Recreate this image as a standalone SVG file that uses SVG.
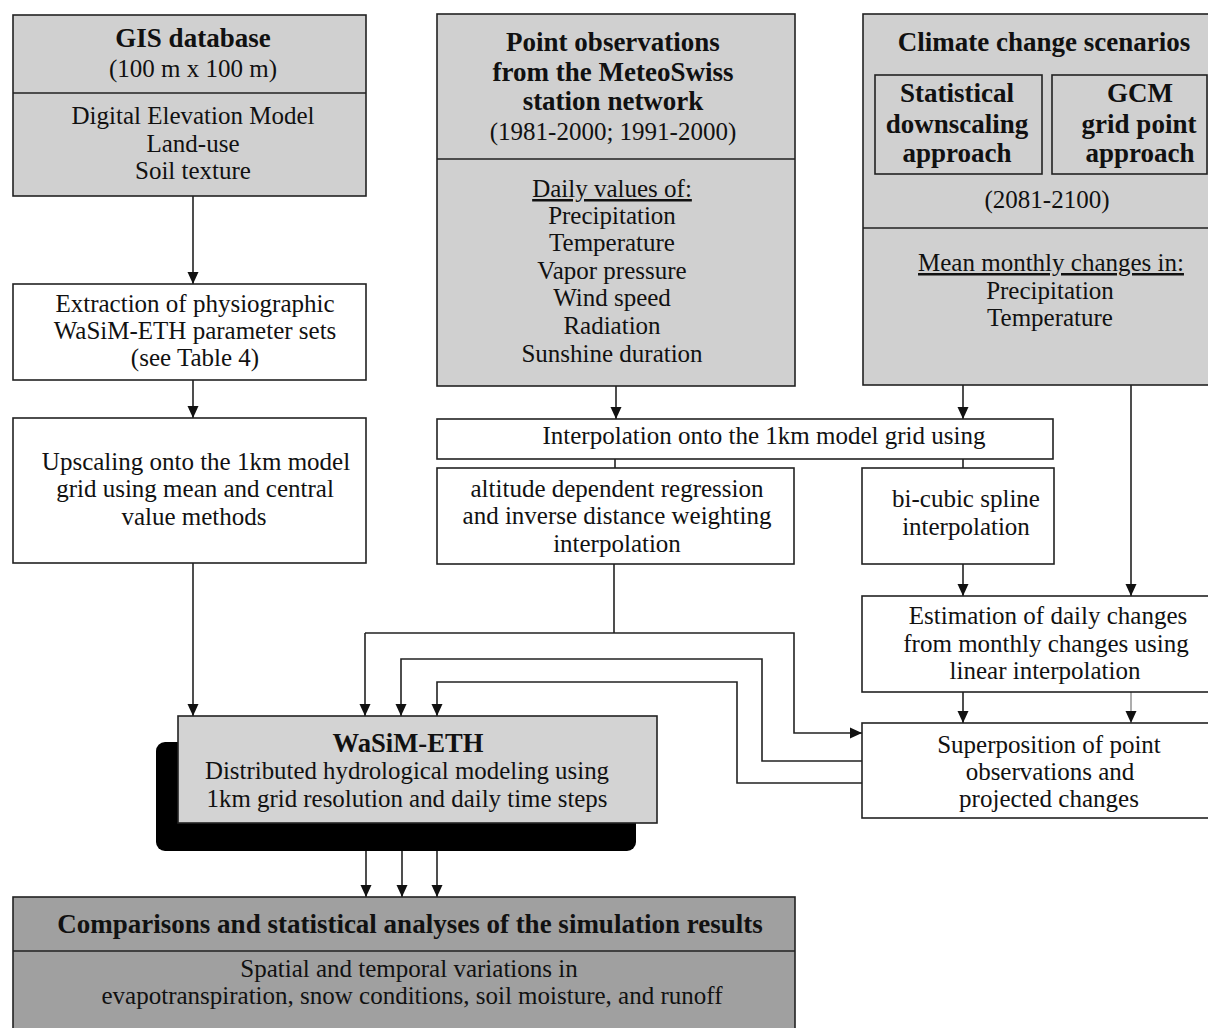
<svg xmlns="http://www.w3.org/2000/svg" width="1208" height="1028" viewBox="0 0 1208 1028">
<defs>
<style>
text{font-family:"Liberation Serif","Times New Roman",serif;font-size:25px;fill:#111;text-anchor:middle}
.b{font-weight:bold;font-size:27px}
.box{stroke:#222;stroke-width:1.6}
.g{fill:#d0d0d0}
.w{fill:#fff}
.d{fill:#a0a0a0}
.ln{fill:none;stroke:#222;stroke-width:1.6}
.arr{marker-end:url(#ah)}
.u{text-decoration:underline}
</style>
<marker id="ah" markerUnits="userSpaceOnUse" markerWidth="12" markerHeight="12" viewBox="0 0 12 12" refX="12" refY="6" orient="auto">
<path d="M0,0.5 L12,6 L0,11.5 Z" fill="#111"/>
</marker>
</defs>

<g id="connectors">
<path class="ln arr" d="M193,196 V284"/>
<path class="ln arr" d="M193,380 V418"/>
<path class="ln arr" d="M193,563 V716"/>
<path class="ln arr" d="M616,386 V419"/>
<path class="ln arr" d="M963,385 V419"/>
<path class="ln arr" d="M1131,385 V596"/>
<path class="ln" d="M615,459 V468"/>
<path class="ln" d="M963,459 V468"/>
<path class="ln arr" d="M963,564 V596"/>
<path class="ln arr" d="M963,692 V723"/>
<path fill="none" stroke="#999" stroke-width="1.6" marker-end="url(#ah)" d="M1131,692 V723"/>
<path class="ln" d="M614,564 V633"/>
<path class="ln arr" d="M365,633 H794 V733 H862"/>
<path class="ln arr" d="M365,633 V716"/>
<path class="ln arr" d="M862,761 H762 V659 H401 V716"/>
<path class="ln arr" d="M862,783 H737 V682 H437 V716"/>
<path class="ln arr" d="M366,851 V897"/>
<path class="ln arr" d="M402,851 V897"/>
<path class="ln arr" d="M437,851 V897"/>
</g>

<g id="gis">
<rect class="box g" x="13" y="15" width="353" height="181"/>
<line class="box" x1="13" y1="93" x2="366" y2="93"/>
<text class="b" x="193" y="47">GIS database</text>
<text x="193" y="77">(100 m x 100 m)</text>
<text x="193" y="124">Digital Elevation Model</text>
<text x="193" y="152">Land-use</text>
<text x="193" y="179">Soil texture</text>
</g>

<g id="extraction">
<rect class="box w" x="13" y="284" width="353" height="96"/>
<text x="195" y="312">Extraction of physiographic</text>
<text x="195" y="339">WaSiM-ETH parameter sets</text>
<text x="195" y="366">(see Table 4)</text>
</g>

<g id="upscaling">
<rect class="box w" x="13" y="418" width="353" height="145"/>
<text x="196" y="470">Upscaling onto the 1km model</text>
<text x="195" y="497">grid using mean and central</text>
<text x="194" y="525">value methods</text>
</g>

<g id="pointobs">
<rect class="box g" x="437" y="14" width="358" height="372"/>
<line class="box" x1="437" y1="159" x2="795" y2="159"/>
<text class="b" x="613" y="51">Point observations</text>
<text class="b" x="613" y="81">from the MeteoSwiss</text>
<text class="b" x="613" y="110">station network</text>
<text x="613" y="140">(1981-2000; 1991-2000)</text>
<text class="u" x="612" y="197">Daily values of:</text>
<text x="612" y="224">Precipitation</text>
<text x="612" y="251">Temperature</text>
<text x="612" y="279">Vapor pressure</text>
<text x="612" y="306">Wind speed</text>
<text x="612" y="334">Radiation</text>
<text x="612" y="362">Sunshine duration</text>
</g>

<g id="climate">
<rect class="box g" x="863" y="14" width="360" height="371"/>
<line class="box" x1="863" y1="228" x2="1223" y2="228"/>
<text class="b" x="1044" y="51">Climate change scenarios</text>
<rect class="box g" x="875" y="75" width="167" height="99"/>
<rect class="box g" x="1052" y="75" width="155" height="99"/>
<text class="b" x="957" y="102">Statistical</text>
<text class="b" x="957" y="133">downscaling</text>
<text class="b" x="957" y="162">approach</text>
<text class="b" x="1140" y="102">GCM</text>
<text class="b" x="1139" y="133">grid point</text>
<text class="b" x="1140" y="162">approach</text>
<text x="1047" y="208">(2081-2100)</text>
<text class="u" x="1051" y="271">Mean monthly changes in:</text>
<text x="1050" y="299">Precipitation</text>
<text x="1050" y="326">Temperature</text>
</g>

<g id="interpolation">
<rect class="box w" x="437" y="419" width="616" height="40"/>
<text x="764" y="444">Interpolation onto the 1km model grid using</text>
</g>

<g id="altitude">
<rect class="box w" x="437" y="468" width="357" height="96"/>
<text x="617" y="497">altitude dependent regression</text>
<text x="617" y="524">and inverse distance weighting</text>
<text x="617" y="552">interpolation</text>
</g>

<g id="bicubic">
<rect class="box w" x="862" y="468" width="192" height="96"/>
<text x="966" y="507">bi-cubic spline</text>
<text x="966" y="535">interpolation</text>
</g>

<g id="estimation">
<rect class="box w" x="862" y="596" width="360" height="96"/>
<text x="1048" y="624">Estimation of daily changes</text>
<text x="1046" y="652">from monthly changes using</text>
<text x="1045" y="679">linear interpolation</text>
</g>

<g id="superposition">
<rect class="box w" x="862" y="723" width="360" height="95"/>
<text x="1049" y="753">Superposition of point</text>
<text x="1050" y="780">observations and</text>
<text x="1049" y="807">projected changes</text>
</g>

<g id="wasim">
<rect x="156" y="742" width="480" height="109" rx="9" fill="#000"/>
<rect class="box" fill="#d3d3d3" x="178" y="716" width="479" height="107"/>
<text class="b" x="408" y="752" textLength="151" lengthAdjust="spacingAndGlyphs">WaSiM-ETH</text>
<text x="407" y="779" textLength="404" lengthAdjust="spacingAndGlyphs">Distributed hydrological modeling using</text>
<text x="407" y="807" textLength="401" lengthAdjust="spacingAndGlyphs">1km grid resolution and daily time steps</text>
</g>

<g id="comparisons">
<rect class="box d" x="13" y="897" width="782" height="140"/>
<line class="box" x1="13" y1="951" x2="795" y2="951"/>
<text class="b" x="410" y="933">Comparisons and statistical analyses of the simulation results</text>
<text x="409" y="977">Spatial and temporal variations in</text>
<text x="412" y="1004">evapotranspiration, snow conditions, soil moisture, and runoff</text>
</g>
</svg>
